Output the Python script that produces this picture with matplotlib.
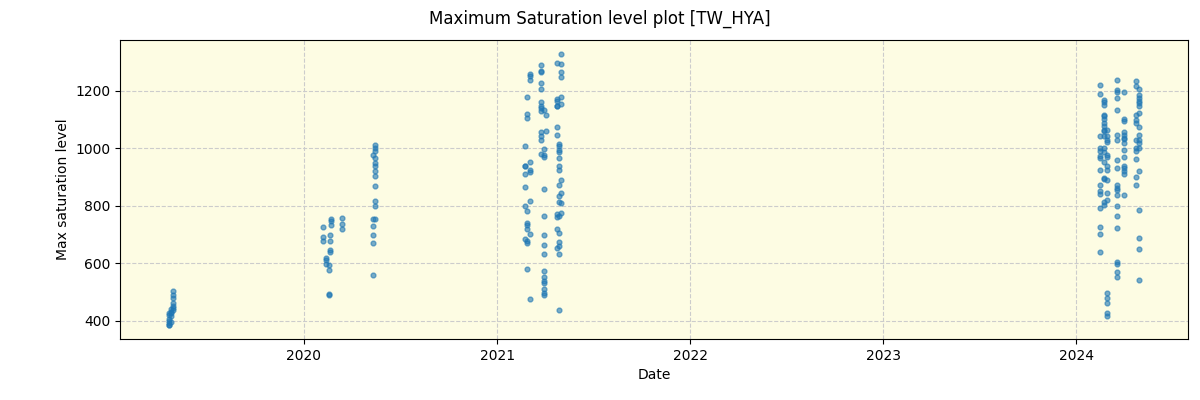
import matplotlib
matplotlib.use("Agg")
import matplotlib.pyplot as plt
import pandas as pd

# Observation groups: date -> max saturation values
d2019_a = "2019-04-20"; v2019_a = [427, 406, 398, 386, 383, 392, 420]
d2019_b = "2019-04-24"; v2019_b = [441, 415, 430, 425, 395]
d2019_c = "2019-04-28"; v2019_c = [502, 490, 479, 462, 450, 435, 445]

d2020_a = "2020-02-06"; v2020_a = [726, 691, 677]
d2020_b = "2020-02-12"; v2020_b = [618, 609, 598]
d2020_c = "2020-02-17"; v2020_c = [592, 577, 494, 488]
d2020_d = "2020-02-20"; v2020_d = [698, 677, 645, 638]
d2020_e = "2020-02-21"; v2020_e = [755, 745, 734]
d2020_f = "2020-03-14"; v2020_f = [757, 737, 717]
d2020_g = "2020-05-11"; v2020_g = [977, 754, 728, 696, 670, 560]
d2020_h = "2020-05-14"; v2020_h = [1012, 1001, 989, 966, 949, 937, 919, 904, 867, 815, 798, 754]

d2021_a = "2021-02-22"; v2021_a = [1006, 939, 937, 910, 866, 800, 685]
d2021_b = "2021-02-27"; v2021_b = [1178, 1120, 1105, 781, 740, 734, 719, 678, 670, 580]
d2021_c = "2021-03-04"; v2021_c = [1258, 1252, 1238, 951, 923, 916, 817, 701, 475]
d2021_d = "2021-03-25"; v2021_d = [1289, 1267, 1265, 1227, 1206, 1162, 1146, 1140, 1128, 1056, 1041, 1030, 980]
d2021_e = "2021-03-31"; v2021_e = [1134, 998, 977, 969, 858, 764, 699, 663, 630, 574, 552, 537, 531, 510, 496, 488]
d2021_f = "2021-04-04"; v2021_f = [1117, 1059]
d2021_g = "2021-04-24"; v2021_g = [1296, 1172, 1163, 1146, 1148, 1074, 1045, 769, 759, 720, 653]
d2021_h = "2021-04-28"; v2021_h = [1016, 1006, 995, 987, 966, 939, 923, 870, 832, 813, 763, 704, 675, 659, 633, 438]
d2021_i = "2021-05-02"; v2021_i = [1329, 1294, 1265, 1248, 1178, 1154, 888, 844, 809, 774]

d2024_a = "2024-02-16"; v2024_a = [1221, 1190, 1043, 1001, 989, 974, 966, 925, 873, 850, 842, 792, 726, 701, 639]
d2024_b = "2024-02-23"; v2024_b = [1169, 1159, 1151, 1116, 1111, 1101, 1088, 1076, 1064, 1059, 1043, 1001, 985, 951, 896, 893, 812, 803]
d2024_c = "2024-02-29"; v2024_c = [1064, 1041, 1030, 1020, 977, 969, 937, 925, 890, 844, 821, 496, 479, 461, 427, 417]
d2024_d = "2024-03-18"; v2024_d = [1238, 1201, 1194, 1174, 1132, 1046, 1030, 958, 931, 870, 861, 853, 836, 799, 763, 722, 604, 595, 570, 552]
d2024_e = "2024-03-31"; v2024_e = [1195, 1101, 1093, 1055, 1047, 1035, 1032, 1018, 995, 969, 937, 931, 919, 911, 838]
d2024_f = "2024-04-23"; v2024_f = [1235, 1217, 1116, 1099, 1088, 1030, 1001, 989, 962, 900, 873]
d2024_g = "2024-04-30"; v2024_g = [1206, 1186, 1174, 1163, 1157, 1145, 1122, 1074, 1047, 1027, 1018, 1001, 922, 786, 688, 649, 541]

groups = [
    (d2019_a, v2019_a), (d2019_b, v2019_b), (d2019_c, v2019_c),
    (d2020_a, v2020_a), (d2020_b, v2020_b), (d2020_c, v2020_c), (d2020_d, v2020_d),
    (d2020_e, v2020_e), (d2020_f, v2020_f), (d2020_g, v2020_g), (d2020_h, v2020_h),
    (d2021_a, v2021_a), (d2021_b, v2021_b), (d2021_c, v2021_c), (d2021_d, v2021_d),
    (d2021_e, v2021_e), (d2021_f, v2021_f), (d2021_g, v2021_g), (d2021_h, v2021_h),
    (d2021_i, v2021_i),
    (d2024_a, v2024_a), (d2024_b, v2024_b), (d2024_c, v2024_c), (d2024_d, v2024_d),
    (d2024_e, v2024_e), (d2024_f, v2024_f), (d2024_g, v2024_g),
]

dates = []
values = []
for d, vals in groups:
    dates.extend([d] * len(vals))
    values.extend(vals)
dates = pd.to_datetime(dates)

fig = plt.figure(figsize=(12, 4), dpi=100)
ax = fig.add_axes([0.1, 0.1525, 0.89, 0.7475])
ax.set_facecolor("#fdfce3")
ax.scatter(dates, values, s=12, color="#1f77b4", alpha=0.6, zorder=3)
ax.grid(True, linestyle="--", color="#cccccc", linewidth=0.8)
ax.set_axisbelow(True)
ax.set_xlabel("Date")
ax.set_ylabel("Max saturation level")
fig.suptitle("Maximum Saturation level plot [TW_HYA]", fontsize=12, y=0.975)
fig.savefig("out.png", dpi=100)
